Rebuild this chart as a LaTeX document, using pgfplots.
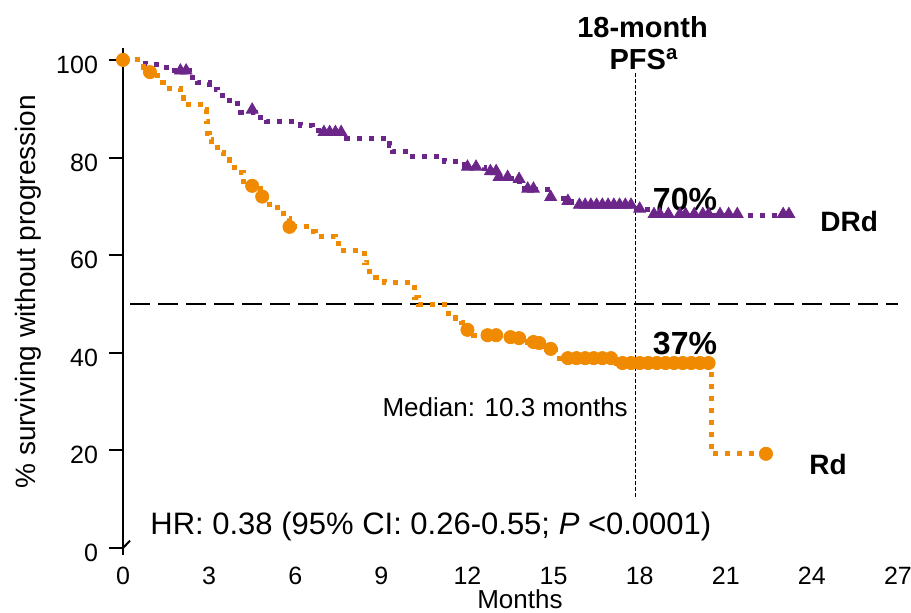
\documentclass[border=0pt]{standalone}
\usepackage{pgfplots}
\pgfplotsset{compat=1.18}
\usepackage{fontspec}
\setmainfont{Liberation Sans}
\definecolor{drd}{RGB}{108,38,138}
\definecolor{rdc}{RGB}{240,138,0}
\begin{document}
\begin{tikzpicture}
\begin{axis}[
  scale only axis,
  width=387.5pt, height=253.8pt,
  xmin=0, xmax=27, ymin=-1.5, ymax=102.5,
  axis lines*=left,
  x axis line style={draw=none},
  y axis line style={black, line width=1pt},
  xtick={0,3,...,27}, ytick={0,20,...,100},
  tick align=outside,
  major tick length=7pt,
  ytick style={black, line width=1pt},
  xtick style={draw=none},
  /pgf/number format/assume math mode=true,
  ticklabel style={font=\fontsize{12.5}{14}\selectfont},
  xticklabel style={yshift=4.5pt},
  yticklabel style={xshift=-2pt, yshift=-2.5pt},
  clip=false,
  const plot,
]
% reference lines
\addplot[black, line width=1pt, dash pattern=on 10pt off 4pt, sharp plot] coordinates {(0.25,50) (27,50)};
\addplot[black, line width=0.5pt, dash pattern=on 2pt off 1pt, sharp plot] coordinates {(17.87,10.5) (17.87,98.4)};
% DRd
\addplot[drd, line width=2.5pt, dash pattern=on 2.5pt off 3.5pt, const plot mark left] coordinates {
(0,100) (0.8,99) (1.3,98.5) (1.8,97.8) (2.3,96.5) (2.6,95.3) (3.0,94) (3.3,92.8) (3.7,91) (4.1,89.3) (4.6,88.3) (5.0,87.3) (6.2,86.5) (6.6,85.5) (7.0,85) (7.8,84) (9.3,82.5) (9.4,81.2) (10.0,80.2) (11.2,79.2) (11.9,78) (12.6,77) (13.0,75.8) (13.7,75) (14.0,73.4) (14.8,71.7) (15.4,70.9) (15.8,70.1) (17.9,69.3) (18.4,68.2) (23.3,68.2)};
\addplot[only marks, mark=triangle*, mark size=3.4pt, color=drd] coordinates {
(2.0,97.8) (2.2,97.8) (4.5,89.8) (7.0,85.2) (7.2,85.2) (7.4,85.2) (7.6,85.2)
(12.0,78.1) (12.3,78.1) (12.8,77.2) (13.0,77.2) (13.1,76) (13.4,76) (13.8,75.6) (14.1,73.6) (14.3,73.6) (14.9,71.9) (15.5,71.1)
(15.9,70.3) (16.1,70.3) (16.3,70.3) (16.5,70.3) (16.7,70.3) (16.9,70.3) (17.1,70.3) (17.3,70.3) (17.5,70.3) (17.7,70.3) (18.0,69.5)
(18.5,68.4) (18.7,68.4) (19.0,68.4) (19.4,68.4) (19.6,68.4) (19.9,68.4) (20.2,68.4) (20.4,68.4) (20.8,68.4) (21.1,68.4) (21.4,68.4) (23.0,68.4) (23.2,68.4)};
% Rd
\addplot[rdc, line width=2.5pt, dash pattern=on 2.5pt off 3.5pt, const plot mark left] coordinates {
(0,100) (0.7,98.5) (0.9,97.5) (1.2,95.3) (1.4,94.2) (2.0,92.2) (2.1,90.8) (2.8,89.8) (2.9,87.3) (2.95,85) (3.0,83.6) (3.1,82) (3.3,81) (3.5,79.5) (3.7,78) (4.0,77) (4.2,75) (4.4,74.2) (4.8,72) (5.1,69.7) (5.6,67.6) (5.8,65.8) (6.4,64.8) (6.7,63.9) (7.4,63.1) (7.5,61) (8.4,58.4) (8.6,56.6) (8.8,55.5) (9.1,54.5) (10.15,51.4) (10.3,49.8) (11.2,48.1) (11.6,47.1) (11.8,46.1) (11.95,44.7) (12.2,43.6) (13.3,43.2) (14.1,42.2) (14.7,41.2) (14.9,40.6) (15.2,38.9) (17.2,37.9) (20.5,19.3) (22.4,19.3)};
\addplot[only marks, mark=*, mark size=3.3pt, color=rdc] coordinates {
(0,100) (0.94,97.5) (4.5,74.2) (4.85,72) (5.8,65.8) (12.0,44.7) (12.7,43.6) (13.0,43.6) (13.5,43.2) (13.8,43.0) (14.3,42.2) (14.5,42.0) (14.9,40.8)
(15.5,38.9) (15.8,38.9) (16.1,38.9) (16.4,38.9) (16.7,38.9) (17.0,38.9)
(17.4,37.9) (17.7,37.9) (18.0,37.9) (18.3,37.9) (18.6,37.9) (18.9,37.9) (19.2,37.9) (19.5,37.9) (19.8,37.9) (20.1,37.9) (20.4,37.9) (22.4,19.3)};
% y=0 tick right side
\draw[black, line width=1pt] (axis cs:0,0) -- ++(3.5pt,0);
% texts
\node[font=\fontsize{14.5}{16}\selectfont\bfseries] at (axis cs:18.1,106.8) {18-month};
\node[font=\fontsize{14.5}{16}\selectfont\bfseries, fill=white, inner sep=1pt] at (axis cs:18.15,100.2) {PFS\textsuperscript{a}};
\node[font=\fontsize{16}{18}\selectfont\bfseries] at (axis cs:19.58,71.5) {70\%};
\node[font=\fontsize{16}{18}\selectfont\bfseries] at (axis cs:19.58,41.8) {37\%};
\node[font=\fontsize{14}{16}\selectfont\bfseries] at (axis cs:25.3,66.8) {DRd};
\node[font=\fontsize{14}{16}\selectfont\bfseries] at (axis cs:24.56,17.2) {Rd};
\node[font=\fontsize{13}{15}\selectfont, anchor=east, inner sep=0pt] at (axis cs:17.6,28.9) {Median: 10.3 months};
\node[font=\fontsize{15.5}{17}\selectfont, anchor=west, inner sep=0pt] at (axis cs:0.94,4.5) {HR: 0.38 (95\% CI: 0.26-0.55; \textit{P} <0.0001)};
\node[font=\fontsize{13}{15}\selectfont] at (axis cs:13.83,-10.4) {Months};
\node[font=\fontsize{14}{16}\selectfont, rotate=90] at (axis cs:-3.31,52.5) {\% surviving without progression};
\coordinate (O) at (axis cs:0,0);
\end{axis}
\pgfresetboundingbox
\path[use as bounding box] (O) ++(-61.5pt,-32pt) rectangle ++(455.5pt,306pt);
\end{tikzpicture}
\end{document}
